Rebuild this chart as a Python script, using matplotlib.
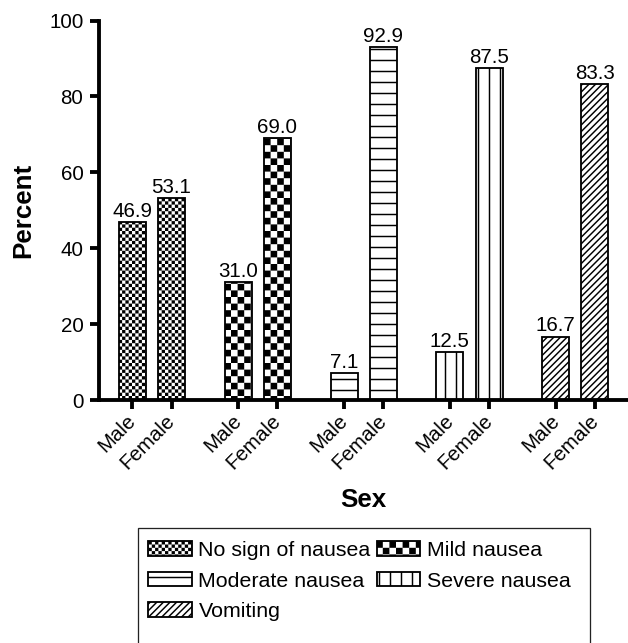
import warnings
import numpy as np
import matplotlib
matplotlib.use('Agg')
import matplotlib.pyplot as plt
import matplotlib.hatch as mhatch
import matplotlib.transforms as mtransforms
from matplotlib.path import Path
from matplotlib.patches import Rectangle

warnings.filterwarnings('ignore')

groups = ['No sign of nausea', 'Mild nausea', 'Moderate nausea', 'Severe nausea', 'Vomiting']
sexes = ['Male', 'Female']
male = [46.9, 31.0, 7.1, 12.5, 16.7]
female = [53.1, 69.0, 92.9, 87.5, 83.3]
# c = fine checker, k = coarse checker, d = dense diagonal (custom, see below)
hatches = ['c', 'k', '-', '|', 'd']

DPI = 66
HATCH_LW = 1.6

plt.rcParams['font.family'] = ['Liberation Sans', 'DejaVu Sans']
plt.rcParams['hatch.linewidth'] = HATCH_LW
plt.rcParams['hatch.color'] = 'black'


class CustomHatch(mhatch.HatchPatternBase):
    # checkerboards and a denser diagonal, which matplotlib has no hatch for
    def __init__(self, hatch, density):
        self.squares = []
        self.lines = []
        # the hatch path gets filled and then stroked, so shrink the squares
        shrink = HATCH_LW / 72 / 2
        for ch, n in (('c', 20), ('k', 10)):
            if ch in hatch:
                s = 1.0 / n
                for i in range(n):
                    for j in range(n):
                        if (i + j) % 2 == 0:
                            self.squares.append((i * s + shrink, j * s + shrink, s - 2 * shrink))
        if 'd' in hatch:
            n = 10
            self.lines = [k / n for k in range(-n, n + 1)]
        self.num_vertices = len(self.squares) * 5 + len(self.lines) * 2

    def set_vertices_and_codes(self, vertices, codes):
        cur = 0
        for x0, y0, w in self.squares:
            vertices[cur:cur + 5] = [(x0, y0), (x0 + w, y0), (x0 + w, y0 + w), (x0, y0 + w), (x0, y0)]
            codes[cur:cur + 5] = [Path.MOVETO, Path.LINETO, Path.LINETO, Path.LINETO, Path.CLOSEPOLY]
            cur += 5
        for c in self.lines:
            vertices[cur:cur + 2] = [(0.0, c), (1.0, 1.0 + c)]
            codes[cur:cur + 2] = [Path.MOVETO, Path.LINETO]
            cur += 2


mhatch._hatch_types.append(CustomHatch)

fig = plt.figure(figsize=(628.2 / DPI, 643.2 / DPI), dpi=DPI)
ax = fig.add_axes([99 / 628, (643 - 400) / 643, 529 / 628, 379.3 / 643])

x = np.arange(len(groups))
off = 0.185
width = 0.255
handles = []
for i, h in enumerate(hatches):
    b1 = ax.bar(x[i] - off, male[i], width, hatch=h, facecolor='white',
                edgecolor='black', linewidth=2, label=groups[i])
    b2 = ax.bar(x[i] + off, female[i], width, hatch=h, facecolor='white',
                edgecolor='black', linewidth=2)
    ax.bar_label(b1, fmt='%.1f', padding=1.5, fontsize=22.4)
    ax.bar_label(b2, fmt='%.1f', padding=1.5, fontsize=22.4)
    handles.append(b1)

ax.set_xlim(-0.5, 4.5)
ax.set_ylim(0, 100)
ax.set_yticks([0, 20, 40, 60, 80, 100])

for side in ['top', 'right']:
    ax.spines[side].set_visible(False)
for side in ['left', 'bottom']:
    ax.spines[side].set_linewidth(4.2)
ax.tick_params(width=4.2, length=10, labelsize=22.4, pad=7)
ax.tick_params(axis='x', pad=4)

ticks = []
labels = []
for i in x:
    ticks += [i - off, i + off]
    labels += sexes
ax.set_xticks(ticks)
ax.set_xticklabels(labels, rotation=45, ha='right', va='top', rotation_mode='anchor')
# nudge the rotated labels so the word ends sit under the ticks
shift = mtransforms.ScaledTranslation(-6 / DPI, 1.5 / DPI, fig.dpi_scale_trans)
for lab in ax.get_xticklabels():
    lab.set_transform(lab.get_transform() + shift)

ax.set_ylabel('Percent', fontsize=28.4, fontweight='bold')
ax.yaxis.set_label_coords(-0.1437, 0.5)
ax.yaxis.label.set_va('center')
ax.set_xlabel('Sex', fontsize=28.4, fontweight='bold')
ax.xaxis.set_label_coords(0.5, -0.264)
ax.xaxis.label.set_va('center')

order = [0, 2, 4, 1, 3]
ax.legend([handles[k] for k in order], [groups[k] for k in order], ncol=2,
          loc='upper left', bbox_to_anchor=(148 / 628, (643 - 541) / 643),
          bbox_transform=fig.transFigure, frameon=False, fontsize=23.3,
          borderpad=0, borderaxespad=0, handlelength=2.04, handleheight=0.65,
          handletextpad=0.32, columnspacing=0.28, labelspacing=0.54)
fig.add_artist(Rectangle((138 / 628, -0.05), (590 - 138) / 628, (643 - 528) / 643 + 0.05,
                         transform=fig.transFigure, fill=False, linewidth=1.4,
                         edgecolor='#222222'))

fig.savefig('out.png', dpi=DPI)
